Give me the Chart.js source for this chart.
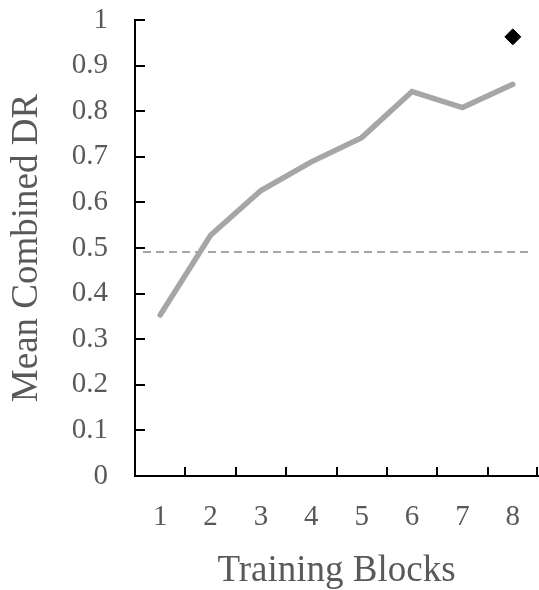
<!DOCTYPE html>
<html>
<head>
<meta charset="utf-8">
<script src="https://cdn.jsdelivr.net/npm/chart.js@4/dist/chart.umd.min.js"></script>
<style>
  html, body { margin: 0; padding: 0; background: #ffffff; }
  #wrap { width: 539px; height: 590px; }
</style>
</head>
<body>
<div id="wrap"><canvas id="chart" width="539" height="590"></canvas></div>
<script>
// Training blocks and mean combined DR per block
const blocks = ['1', '2', '3', '4', '5', '6', '7', '8'];
const meanDR = [0.353, 0.528, 0.626, 0.689, 0.742, 0.843, 0.808, 0.859];
// Single comparison value shown at the final block
const comparisonDR = [null, null, null, null, null, null, null, 0.963];
// Reference level drawn as a dashed horizontal line
const referenceLevel = 0.492;
const yTicks = [0, 0.1, 0.2, 0.3, 0.4, 0.5, 0.6, 0.7, 0.8, 0.9, 1];

const textColor = '#595959';
const serif = '"Liberation Serif", "Times New Roman", serif';

// Inward tick marks on both axes plus the dashed reference line
const axisDecor = {
  id: 'axisDecor',
  beforeDatasetsDraw(chart) {
    const { ctx, chartArea, scales } = chart;
    const y = scales.y;
    ctx.save();
    ctx.strokeStyle = '#a6a6a6';
    ctx.lineWidth = 2;
    ctx.setLineDash([8, 5]);
    const py = Math.round(y.getPixelForValue(referenceLevel));
    ctx.beginPath();
    ctx.moveTo(chartArea.left + 8, py);
    ctx.lineTo(chartArea.right - 9, py);
    ctx.stroke();
    ctx.restore();
  },
  afterDraw(chart) {
    const { ctx, chartArea, scales } = chart;
    const x = scales.x, y = scales.y;
    ctx.save();
    ctx.strokeStyle = '#000000';
    ctx.lineWidth = 2;
    ctx.beginPath();
    y.ticks.forEach(t => {
      const py = Math.round(y.getPixelForValue(t.value));
      ctx.moveTo(chartArea.left, py);
      ctx.lineTo(chartArea.left + 10, py);
    });
    const n = blocks.length;
    for (let k = 1; k <= n; k++) {
      const px = Math.round(x.left + (x.width / n) * k) - (k === n ? 1 : 0);
      ctx.moveTo(px, chartArea.bottom);
      ctx.lineTo(px, chartArea.bottom - 9);
    }
    ctx.stroke();
    ctx.restore();
  }
};

new Chart(document.getElementById('chart'), {
  type: 'line',
  data: {
    labels: blocks,
    datasets: [
      {
        data: meanDR,
        borderColor: '#a6a6a6',
        borderWidth: 5.5,
        borderCapStyle: 'round',
        borderJoinStyle: 'miter',
        pointRadius: 0,
        tension: 0,
        fill: false
      },
      {
        data: comparisonDR,
        showLine: false,
        pointStyle: 'rectRot',
        pointRadius: 8,
        pointBackgroundColor: '#000000',
        pointBorderColor: '#000000',
        pointBorderWidth: 1
      }
    ]
  },
  options: {
    responsive: false,
    animation: false,
    layout: { autoPadding: false, padding: { top: 20, right: 1, bottom: 0, left: 0 } },
    plugins: { legend: { display: false }, tooltip: { enabled: false } },
    scales: {
      x: {
        type: 'category',
        offset: true,
        // invisible tick marks only reserve the gap above the labels
        grid: {
          display: true,
          drawOnChartArea: false,
          drawTicks: true,
          tickLength: 24,
          color: 'rgba(0,0,0,0)'
        },
        border: { display: true, color: '#000000', width: 2 },
        ticks: {
          color: textColor,
          font: { family: serif, size: 29 },
          padding: 0,
          maxRotation: 0
        },
        title: {
          display: true,
          text: 'Training Blocks',
          color: textColor,
          font: { family: serif, size: 37, lineHeight: 1 },
          padding: { top: 0, bottom: 0 }
        },
        afterFit(scale) {
          scale.height = 114;
          scale.paddingLeft = 0;
          scale.paddingRight = 0;
        }
      },
      y: {
        min: 0,
        max: 1,
        grid: { display: false, drawTicks: false },
        border: { display: true, color: '#000000', width: 2 },
        afterBuildTicks(scale) { scale.ticks = yTicks.map(v => ({ value: v })); },
        ticks: {
          color: textColor,
          font: { family: serif, size: 29 },
          padding: 27,
          callback: v => String(v)
        },
        title: {
          display: true,
          text: 'Mean Combined DR',
          color: textColor,
          font: { family: serif, size: 37, lineHeight: 1 },
          padding: { top: 9, bottom: 0 }
        },
        afterFit(scale) {
          scale.width = 135;
          scale.paddingTop = 0;
          scale.paddingBottom = 0;
        }
      }
    }
  },
  plugins: [axisDecor]
});
</script>
</body>
</html>
